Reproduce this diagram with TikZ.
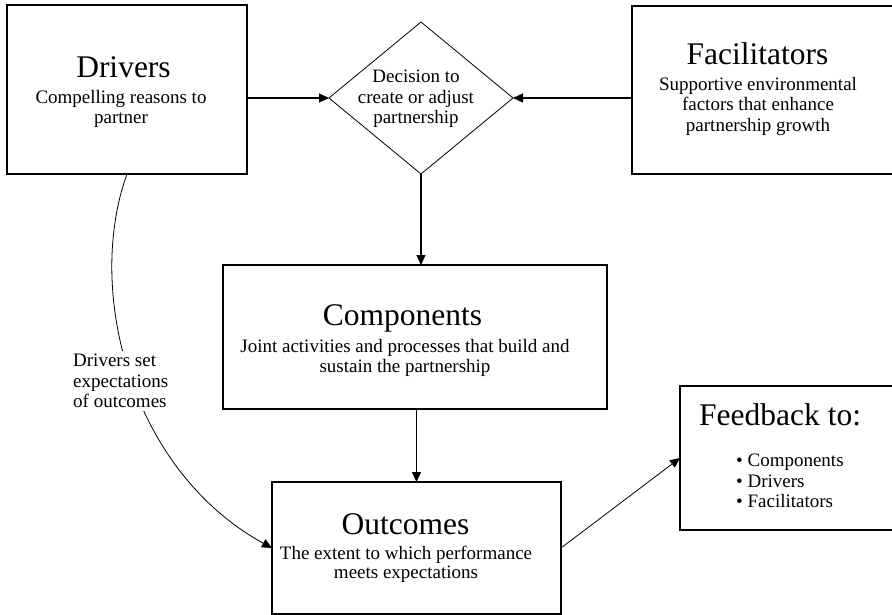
\documentclass[tikz,border=0pt]{standalone}
\usepackage{fontspec}
\setmainfont{Liberation Serif}
\usetikzlibrary{shapes.geometric,arrows.meta}
\begin{document}
\begin{tikzpicture}[x=1pt,y=-1pt,
  box/.style={draw,line width=1.2pt,inner sep=0pt,outer sep=0pt},
  decbox/.style={draw,diamond,line width=0.8pt,inner sep=0pt,outer sep=0pt},
  ttl/.style={font=\fontsize{31.5}{36}\selectfont,inner sep=0pt,anchor=base},
  sub/.style={font=\fontsize{19}{20.5}\selectfont,inner sep=0pt,align=center,anchor=north},
  arr/.style={line width=1.2pt,-{Triangle[length=10pt,width=9pt]}},
  thinarr/.style={line width=0.8pt,-{Triangle[length=10pt,width=9pt]}}]

\useasboundingbox (0,0) rectangle (892,615);
\clip (0,0) rectangle (892,615);

% boxes
\node[box,minimum width=240pt,minimum height=169pt] (drv) at (127,89.5) {};
\node[box,minimum width=268pt,minimum height=168pt] (fac) at (766,90) {};
\node[decbox,minimum width=184pt,minimum height=152pt] (dec) at (421,98) {};
\node[box,minimum width=384pt,minimum height=144pt] (comp) at (415,337) {};
\node[box,minimum width=289pt,minimum height=132pt] (out) at (416.5,548) {};
\node[box,minimum width=220pt,minimum height=144pt] (fb) at (790,458) {};

% texts
\node[ttl] (drvT) at (123.5,78) {Drivers};
\node[sub] (drvS) at (121,90) {Compelling reasons to\\partner};
\node[ttl] (facT) at (757.5,65) {Facilitators};
\node[sub] (facS) at (758,77) {Supportive environmental\\factors that enhance\\partnership growth};
\node[sub] (decS) at (416,70) {Decision to\\create or adjust\\partnership};
\node[ttl] (compT) at (402.5,325) {Components};
\node[sub] (compS) at (405,339) {Joint activities and processes that build and\\sustain the partnership};
\node[ttl] (outT) at (405.5,534) {Outcomes};
\node[sub,font=\fontsize{19}{18.5}\selectfont] (outS) at (406,546) {The extent to which performance\\meets expectations};
\node[ttl,anchor=base west] (fbT) at (699,425) {Feedback to:};
\node[sub,align=left,anchor=north west] (fbL) at (736,454) {• Components\\• Drivers\\• Facilitators};

% connectors
\draw[arr] (drv.east |- dec.west) -- (dec.west);
\draw[arr] (fac.west |- dec.east) -- (dec.east);
\draw[arr] (dec.south) -- (dec.south |- comp.north);
\draw[arr] (out.north |- comp.south) -- (out.north);
\draw[thinarr] (out.east) -- (fb.west);
\draw[thinarr] (drv.south) .. controls (85,290) and (130,470) .. (out.west);

% label over the curve
\node[sub,align=left,anchor=north west,fill=white,inner sep=3pt] (lbl) at (70,351) {Drivers set\\expectations\\of outcomes};
\end{tikzpicture}
\end{document}
